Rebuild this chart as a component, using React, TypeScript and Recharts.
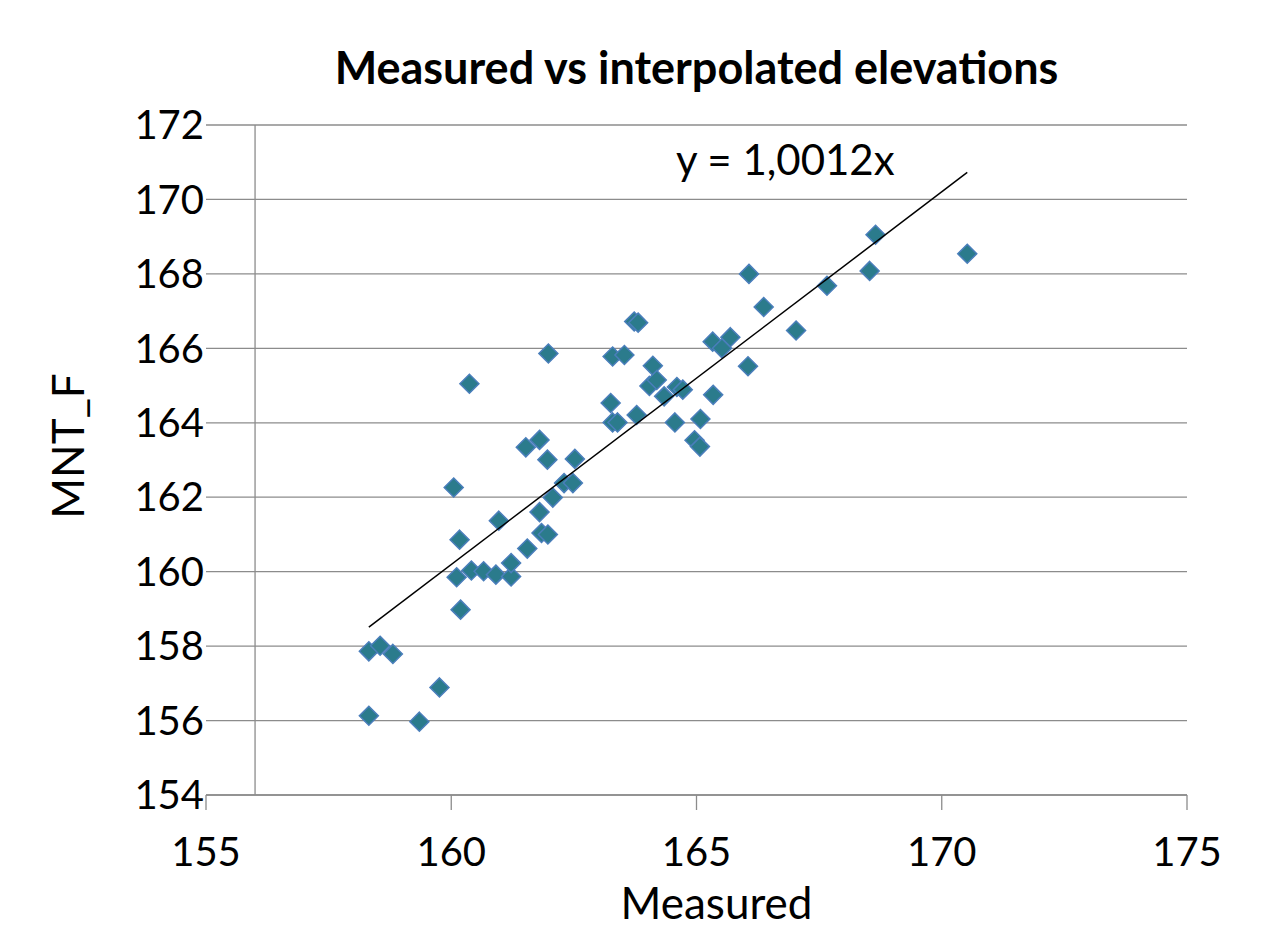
import React from 'react';
import {
  ScatterChart,
  Scatter,
  XAxis,
  YAxis,
  CartesianGrid,
  ReferenceLine,
  ReferenceDot,
} from 'recharts';

// measured elevation (x) vs interpolated MNT_F (y)
const MEASURED = [
  158.32, 158.55, 158.81, 159.76, 158.32, 159.35, 160.19, 160.11, 160.41, 160.66,
  160.91, 161.22, 161.22, 161.55, 161.84, 161.97, 160.17, 160.97, 161.80, 162.07,
  162.30, 162.48, 160.05, 161.96, 162.52, 161.52, 161.80, 160.37, 161.98, 163.29,
  163.53, 163.73, 163.81, 163.25, 163.29, 163.39, 163.78, 164.04, 164.11, 164.19,
  164.34, 164.60, 164.72, 164.56, 165.08, 164.96, 165.07, 165.34, 165.33, 165.52,
  165.69, 166.05, 166.07, 166.37, 167.03, 167.66, 168.53, 168.65, 170.52,
];
const MNT_F = [
  157.86, 158.01, 157.79, 156.89, 156.13, 155.97, 158.98, 159.85, 160.03, 160.01,
  159.92, 159.87, 160.23, 160.62, 161.04, 161.00, 160.86, 161.37, 161.60, 161.99,
  162.38, 162.38, 162.26, 163.01, 163.03, 163.34, 163.54, 165.05, 165.86, 165.78,
  165.82, 166.72, 166.69, 164.53, 164.01, 164.01, 164.21, 164.99, 165.53, 165.15,
  164.71, 164.96, 164.89, 164.01, 164.10, 163.53, 163.36, 164.75, 166.18, 166.00,
  166.30, 165.52, 168.00, 167.11, 166.48, 167.68, 168.08, 169.05, 168.54,
];

const X_TICKS = [155, 160, 165, 170, 175];
const Y_TICKS = [154, 156, 158, 160, 162, 164, 166, 168, 170, 172];
const TREND_SLOPE = 1.0012;
const TREND_LABEL = 'y = 1,0012x';

const points = MEASURED.map((x, i) => ({ x, y: MNT_F[i] }));
const xMin = Math.min(...MEASURED);
const xMax = Math.max(...MEASURED);
const trend = [
  { x: xMin, y: xMin * TREND_SLOPE },
  { x: xMax, y: xMax * TREND_SLOPE },
];

const FONT = 'Lato, "Open Sans", sans-serif';
const GRID = '#8c8c8c';

const Diamond = (props: any) => {
  const { cx, cy } = props;
  const r = 9.5;
  return (
    <polygon
      points={`${cx},${cy - r} ${cx + r},${cy} ${cx},${cy + r} ${cx - r},${cy}`}
      fill="#2B7B8C"
      stroke="#4A7EBB"
      strokeWidth={1.5}
    />
  );
};

const YLabel = (props: any) => {
  const { viewBox } = props;
  const cx = viewBox.x + 84;
  const cy = viewBox.y + viewBox.height / 2 - 14;
  return (
    <text
      x={cx}
      y={cy}
      transform={`rotate(-90, ${cx}, ${cy})`}
      textAnchor="middle"
      fontFamily={FONT}
      fontSize={44}
      fill="#000"
    >
      MNT_F
    </text>
  );
};

const XLabel = (props: any) => {
  const { viewBox } = props;
  return (
    <text
      x={viewBox.x + viewBox.width / 2 + 20}
      y={viewBox.y + viewBox.height - 10}
      textAnchor="middle"
      fontFamily={FONT}
      fontSize={44}
      fill="#000"
    >
      Measured
    </text>
  );
};

export default function App() {
  return (
    <div style={{ position: 'absolute', left: 0, top: 0, width: 1282, height: 929, background: '#fff' }}>
      <div
        style={{
          position: 'absolute',
          left: 206,
          width: 981,
          top: 42,
          textAlign: 'center',
          fontFamily: FONT,
          fontWeight: 700,
          fontSize: 45,
          lineHeight: '50px',
          color: '#000',
        }}
      >
        Measured vs interpolated elevations
      </div>
      <ScatterChart width={1282} height={929} margin={{ top: 125, right: 95, bottom: 0, left: 0 }}>
        <CartesianGrid horizontal vertical={false} stroke={GRID} strokeWidth={1.3} />
        <XAxis
          type="number"
          dataKey="x"
          domain={[155, 175]}
          ticks={X_TICKS}
          height={134}
          stroke={GRID}
          strokeWidth={1.3}
          tickSize={15}
          tickMargin={28}
          tick={{ fill: '#000', fontSize: 40, fontFamily: FONT }}
          label={<XLabel />}
        />
        <YAxis
          type="number"
          dataKey="y"
          domain={[154, 172]}
          ticks={Y_TICKS}
          width={206}
          axisLine={false}
          tickLine={false}
          tickSize={0}
          tickMargin={2}
          tick={{ fill: '#000', fontSize: 40, fontFamily: FONT }}
          label={<YLabel />}
        />
        <ReferenceLine x={156} stroke={GRID} strokeWidth={1.3} />
        <Scatter data={points} shape={<Diamond />} isAnimationActive={false} />
        <Scatter
          data={trend}
          line={{ stroke: '#000', strokeWidth: 1.5 }}
          shape={() => <g />}
          isAnimationActive={false}
        />
        <ReferenceDot
          x={166.81}
          y={171.06}
          r={0}
          fill="none"
          stroke="none"
          label={{ value: TREND_LABEL, position: 'center', fill: '#000', fontSize: 42, fontFamily: FONT }}
        />
      </ScatterChart>
    </div>
  );
}
